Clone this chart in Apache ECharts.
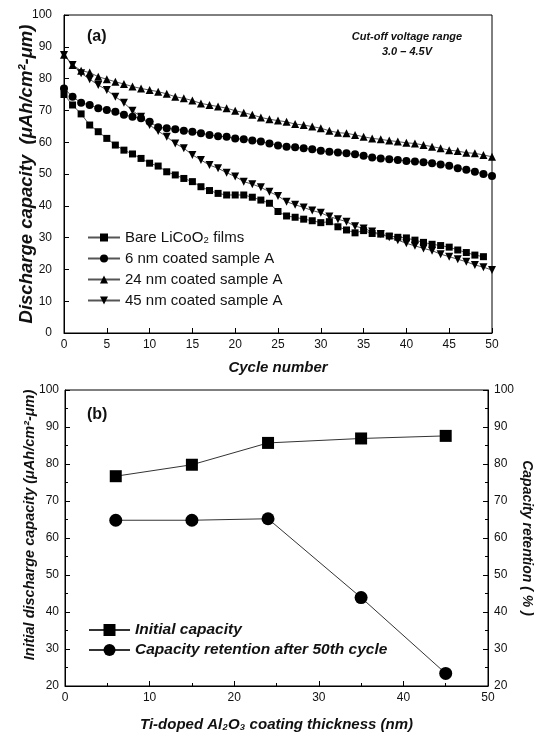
<!DOCTYPE html>
<html>
<head>
<meta charset="utf-8">
<script src="https://cdn.jsdelivr.net/npm/echarts@6/dist/echarts.min.js"></script>
<style>
html,body{margin:0;padding:0;background:#fff;}
#chart{width:538px;height:732px;}
</style>
</head>
<body>
<div id="chart"></div>
<script>
// ---- Panel (a) data ----
var cycles = [0,1,2,3,4,5,6,7,8,9,10,11,12,13,14,15,16,17,18,19,20,21,22,23,24,25,26,27,28,29,30,31,32,33,34,35,36,37,38,39,40,41,42,43,44,45,46,47,48,49,50];
var bareLiCoO2 = [75.0,71.7,68.9,65.4,63.3,61.2,59.1,57.5,56.3,54.9,53.4,52.5,50.7,49.7,48.6,47.6,46.0,44.8,43.9,43.4,43.4,43.4,42.7,41.8,40.8,38.2,36.8,36.4,35.8,35.3,34.7,35.0,33.4,32.4,31.5,32.2,31.3,31.1,30.5,30.1,29.9,29.2,28.5,27.9,27.5,27.0,26.1,25.3,24.5,24.0];
var coated6nm = [76.9,74.3,72.4,71.7,70.7,70.1,69.6,68.6,68.0,67.5,66.4,64.7,64.4,64.1,63.6,63.3,62.8,62.3,61.9,61.7,61.2,60.9,60.5,60.2,59.6,59.0,58.6,58.4,58.1,57.8,57.3,57.0,56.8,56.5,56.2,55.7,55.2,54.9,54.6,54.4,54.1,53.9,53.7,53.4,53.0,52.6,51.8,51.3,50.7,50.0,49.4];
var coated24nm = [87.5,84.3,82.5,81.9,80.6,79.8,79.0,78.3,77.5,76.9,76.4,75.9,75.2,74.3,73.8,73.1,72.2,71.7,71.2,70.7,69.9,69.3,68.6,67.8,67.2,66.8,66.4,65.7,65.4,64.9,64.4,63.6,63.0,62.8,62.3,61.7,61.2,60.9,60.5,60.2,59.8,59.6,59.1,58.6,58.1,57.5,57.2,56.7,56.5,56.0,55.4];
var coated45nm = [87.4,84.3,81.7,79.8,78.0,76.4,74.3,72.4,69.9,68.0,65.4,63.5,61.7,59.6,58.1,56.0,54.4,52.8,51.8,50.4,49.2,47.6,46.8,45.8,44.4,43.1,41.3,40.3,39.5,38.5,37.8,36.6,35.8,35.0,33.6,32.9,31.9,31.1,30.1,29.2,28.2,27.4,26.6,25.9,24.8,24.0,23.2,22.4,21.4,20.7,19.8];
var seriesNamesA = ['Bare LiCoO\u2082 films','6 nm coated sample A','24 nm coated sample A','45 nm coated sample A'];

// ---- Panel (b) data ----
var thickness = [6,15,24,35,45];
var initialCapacity = [76.7,79.8,85.7,86.9,87.6];
var capacityRetention = [64.8,64.8,65.2,43.9,23.4];
var seriesNamesB = ['Initial capacity','Capacity retention after 50th cycle'];

function pairs(xs, ys){ return ys.map(function(v,i){ return [xs[i], v]; }); }

var FONT = '"Liberation Sans", Arial, sans-serif';
var black = '#111';
var downTri = 'path://M0,0L10,0L5,9Z';

var axisLabel = {color: black, fontSize: 12, fontFamily: FONT};
var nameStyle = {color: black, fontSize: 15, fontWeight: 'bold', fontStyle: 'italic', fontFamily: FONT};

var chart = echarts.init(document.getElementById('chart'), null, {renderer: 'canvas'});
var option = {
  animation: false,
  backgroundColor: '#fff',
  grid: [
    {left: 64, top: 15, width: 428, height: 318, show: true, borderColor: '#000', borderWidth: 1, outerBoundsMode: 'none', containLabel: false},
    {left: 65, top: 390, width: 423, height: 296, show: true, borderColor: '#000', borderWidth: 1, outerBoundsMode: 'none', containLabel: false}
  ],
  xAxis: [
    {gridIndex: 0, type: 'value', min: 0, max: 50, interval: 5,
     name: 'Cycle number', nameLocation: 'middle', nameGap: 27, nameMoveOverlap: false, nameTextStyle: nameStyle,
     axisLine: {lineStyle: {color: '#000', width: 1}},
     axisTick: {inside: true, length: 5, lineStyle: {color: '#000'}},
     axisLabel: Object.assign({margin: 6}, axisLabel),
     splitLine: {show: false}},
    {gridIndex: 1, type: 'value', min: 0, max: 50, interval: 10,
     name: 'Ti-doped Al\u2082O\u2083 coating thickness (nm)', nameLocation: 'middle', nameGap: 31, nameMoveOverlap: false, nameTextStyle: nameStyle,
     axisLine: {lineStyle: {color: '#000', width: 1}},
     axisTick: {inside: true, length: 5, lineStyle: {color: '#000'}},
     minorTick: {show: true, splitNumber: 2, length: 3, lineStyle: {color: '#000'}},
     axisLabel: Object.assign({margin: 6}, axisLabel),
     splitLine: {show: false}}
  ],
  yAxis: [
    {gridIndex: 0, type: 'value', min: 0, max: 100, interval: 10,
     name: 'Discharge capacity  (\u03bcAh/cm\u00b2-\u03bcm)', nameLocation: 'middle', nameGap: 28, nameMoveOverlap: false,
     nameTextStyle: Object.assign({}, nameStyle, {fontSize: 18.5}),
     axisLine: {show: true, lineStyle: {color: '#000', width: 1}},
     axisTick: {show: true, inside: true, length: 5, lineStyle: {color: '#000'}},
     axisLabel: Object.assign({margin: 12}, axisLabel),
     splitLine: {show: false}},
    {gridIndex: 1, type: 'value', min: 20, max: 100, interval: 10,
     axisLine: {show: true, lineStyle: {color: '#000', width: 1}},
     axisTick: {show: true, inside: true, length: 5, lineStyle: {color: '#000'}},
     minorTick: {show: true, splitNumber: 2, length: 3, lineStyle: {color: '#000'}},
     axisLabel: Object.assign({margin: 6}, axisLabel),
     splitLine: {show: false}},
    {gridIndex: 1, type: 'value', position: 'right', min: 20, max: 100, interval: 10,
     name: 'Capacity retention ( % )', nameLocation: 'middle', nameGap: 32, nameRotate: -90, nameMoveOverlap: false,
     nameTextStyle: Object.assign({}, nameStyle, {fontSize: 14}),
     axisLine: {show: true, lineStyle: {color: '#000', width: 1}},
     axisTick: {show: true, inside: true, length: 5, lineStyle: {color: '#000'}},
     minorTick: {show: true, splitNumber: 2, length: 3, lineStyle: {color: '#000'}},
     axisLabel: Object.assign({margin: 6}, axisLabel),
     splitLine: {show: false}}
  ],
  legend: [
    {left: 82, top: 225, orient: 'vertical', itemWidth: 32, itemHeight: 10, itemGap: 6,
     data: seriesNamesA,
     textStyle: {color: black, fontSize: 15, fontFamily: FONT}},
    {left: 83, top: 617, orient: 'vertical', itemWidth: 41, itemHeight: 15, itemGap: 4,
     data: seriesNamesB,
     textStyle: {color: black, fontSize: 15.5, fontWeight: 'bold', fontStyle: 'italic', fontFamily: FONT}}
  ],
  graphic: [
    {type: 'text', left: 87, top: 29, style: {text: '(a)', font: 'bold 16px ' + FONT, fill: black}},
    {type: 'text', left: 87, top: 407, style: {text: '(b)', font: 'bold 16px ' + FONT, fill: black}},
    {type: 'text', x: 407, y: 37, style: {text: 'Cut-off voltage range', font: 'italic bold 11px ' + FONT, fill: black, align: 'center', verticalAlign: 'middle'}},
    {type: 'text', x: 407, y: 52, style: {text: '3.0 \u2013 4.5V', font: 'italic bold 11px ' + FONT, fill: black, align: 'center', verticalAlign: 'middle'}},
    {type: 'text', x: 30, y: 525, rotation: Math.PI / 2,
     style: {text: 'Initial discharge capacity (\u03bcAh/cm\u00b2-\u03bcm)', font: 'italic bold 14.5px ' + FONT, fill: black, align: 'center', verticalAlign: 'middle'}}
  ],
  series: [
    {name: seriesNamesA[0], type: 'line', xAxisIndex: 0, yAxisIndex: 0, data: pairs(cycles, bareLiCoO2),
     symbol: 'rect', symbolSize: 7, itemStyle: {color: '#000'}, lineStyle: {color: '#555', width: 1}},
    {name: seriesNamesA[1], type: 'line', xAxisIndex: 0, yAxisIndex: 0, data: pairs(cycles, coated6nm),
     symbol: 'circle', symbolSize: 8, itemStyle: {color: '#000'}, lineStyle: {color: '#555', width: 1}},
    {name: seriesNamesA[2], type: 'line', xAxisIndex: 0, yAxisIndex: 0, data: pairs(cycles, coated24nm),
     symbol: 'triangle', symbolSize: 8, itemStyle: {color: '#000'}, lineStyle: {color: '#555', width: 1}},
    {name: seriesNamesA[3], type: 'line', xAxisIndex: 0, yAxisIndex: 0, data: pairs(cycles, coated45nm),
     symbol: downTri, symbolSize: 8, itemStyle: {color: '#000'}, lineStyle: {color: '#555', width: 1}},
    {name: seriesNamesB[0], type: 'line', xAxisIndex: 1, yAxisIndex: 1, data: pairs(thickness, initialCapacity),
     symbol: 'rect', symbolSize: 12, itemStyle: {color: '#000'}, lineStyle: {color: '#333', width: 1}},
    {name: seriesNamesB[1], type: 'line', xAxisIndex: 1, yAxisIndex: 2, data: pairs(thickness, capacityRetention),
     symbol: 'circle', symbolSize: 13, itemStyle: {color: '#000'}, lineStyle: {color: '#333', width: 1}}
  ]
};
chart.setOption(option);
</script>
</body>
</html>
